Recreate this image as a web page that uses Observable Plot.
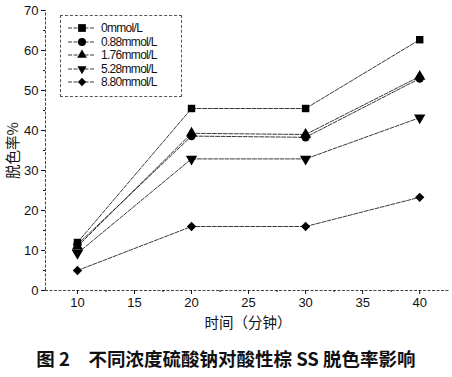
<!DOCTYPE html>
<html><head><meta charset="utf-8">
<script src="https://cdn.jsdelivr.net/npm/d3@7"></script>
<script src="https://cdn.jsdelivr.net/npm/@observablehq/plot@0.6"></script>
<style>
body{margin:0;background:#fff;width:452px;height:377px;overflow:hidden;position:relative;font-family:"Liberation Sans",Arial,sans-serif;}
#chart{position:absolute;left:0;top:0;}
#legend{position:absolute;left:60px;top:15px;width:122px;height:82px;border:1px dashed #555;box-sizing:border-box;background:#fff;}
.row{position:absolute;left:0;height:14px;display:flex;align-items:center;font-size:12px;letter-spacing:-0.7px;color:#111;}
#caption{position:absolute;left:0;top:345px;width:452px;text-align:center;font-family:"Noto Sans CJK SC",sans-serif;font-weight:bold;font-size:18.5px;color:#111;white-space:pre;}
</style></head>
<body>
<div id="chart"></div>
<div id="legend"></div>
<div id="caption">图 2　不同浓度硫酸钠对酸性棕 SS 脱色率影响</div>
<script>
const times = [10, 20, 30, 40];
const seriesNames = ["0mmol/L", "0.88mmol/L", "1.76mmol/L", "5.28mmol/L", "8.80mmol/L"];
const s0 = [12.0, 45.5, 45.5, 62.7];
const s088 = [11.5, 38.6, 38.3, 53.0];
const s176 = [11.0, 39.3, 39.0, 53.5];
const s528 = [9.3, 32.9, 32.9, 43.2];
const s880 = [5.0, 16.0, 16.0, 23.3];
const xTicks = [10, 15, 20, 25, 30, 35, 40];
const yTicks = [0, 10, 20, 30, 40, 50, 60, 70];

const allSeries = [s0, s088, s176, s528, s880];
const data = [];
allSeries.forEach((vals, i) => vals.forEach((v, j) => data.push({series: seriesNames[i], t: times[j], v})));

const triDown = {draw(ctx, size){
  const a = Math.sqrt(size * 4 / Math.sqrt(3));
  const h = a * Math.sqrt(3) / 2;
  ctx.moveTo(0, h * 2 / 3); ctx.lineTo(-a / 2, -h / 3); ctx.lineTo(a / 2, -h / 3); ctx.closePath();
}};
const symbolRange = [d3.symbolSquare, d3.symbolCircle, d3.symbolTriangle, triDown, d3.symbolDiamond2];
const symbolSizes = [60, 50, 40, 36, 44];

const plot = Plot.plot({
  width: 452, height: 340,
  marginLeft: 45, marginRight: 2, marginTop: 10, marginBottom: 50,
  style: {fontFamily: '"Liberation Sans", Arial, sans-serif', fontSize: "13px", color: "#111", background: "transparent"},
  x: {domain: [7.2, 42.7], label: null},
  y: {domain: [0, 70], label: null},
  symbol: {domain: seriesNames, range: ["square", "circle", "triangle", triDown, "diamond2"]},
  marks: [
    Plot.ruleX([7.2], {y1: 0, y2: 70, stroke: "#444", strokeDasharray: "3,1.5", strokeWidth: 1}),
    Plot.ruleY([0], {x1: 7.2, x2: 42.7, stroke: "#444", strokeDasharray: "3,1.5", strokeWidth: 1}),
    Plot.axisY({ticks: yTicks, tickSize: 4, tickPadding: 3, fontSize: 13, label: "脱色率%", labelAnchor: "center", labelArrow: "none", labelOffset: 38}),
    Plot.axisY({ticks: d3.range(5, 70, 10), tickSize: 2, text: null, label: null}),
    Plot.axisX({ticks: xTicks, tickSize: 4, tickPadding: 3, fontSize: 13, label: "时间（分钟）", labelAnchor: "center", labelArrow: "none", labelOffset: 37}),
    Plot.axisX({ticks: d3.range(12.5, 42, 5), tickSize: 2, text: null, label: null}),
    Plot.line(data, {x: "t", y: "v", z: "series", stroke: "#222", strokeWidth: 0.9, strokeDasharray: "4,1.5"}),
    Plot.dot(data, {x: "t", y: "v", symbol: "series", fill: "#000", stroke: "none", r: 4.2})
  ]
});
plot.querySelectorAll("[aria-label='y-axis label'] text, [aria-label='x-axis label'] text").forEach(t => {
  t.style.fontFamily = '"Noto Sans CJK SC", sans-serif';
  t.style.fontSize = "14.5px";
});
document.getElementById("chart").appendChild(plot);

const legend = document.getElementById("legend");
seriesNames.forEach((name, i) => {
  const row = document.createElement("div");
  row.className = "row";
  row.style.top = (5 + i * 13.6) + "px";
  const svg = d3.create("svg").attr("width", 36).attr("height", 14);
  svg.append("line").attr("x1", 7).attr("x2", 34).attr("y1", 7).attr("y2", 7)
     .attr("stroke", "#222").attr("stroke-width", 0.9).attr("stroke-dasharray", "4,1.5");
  svg.append("path").attr("transform", "translate(21,7)")
     .attr("d", d3.symbol(symbolRange[i], symbolSizes[i])()).attr("fill", "#000");
  row.appendChild(svg.node());
  const span = document.createElement("span");
  span.textContent = name;
  span.style.marginLeft = "4px";
  row.appendChild(span);
  legend.appendChild(row);
});
</script>
</body></html>
